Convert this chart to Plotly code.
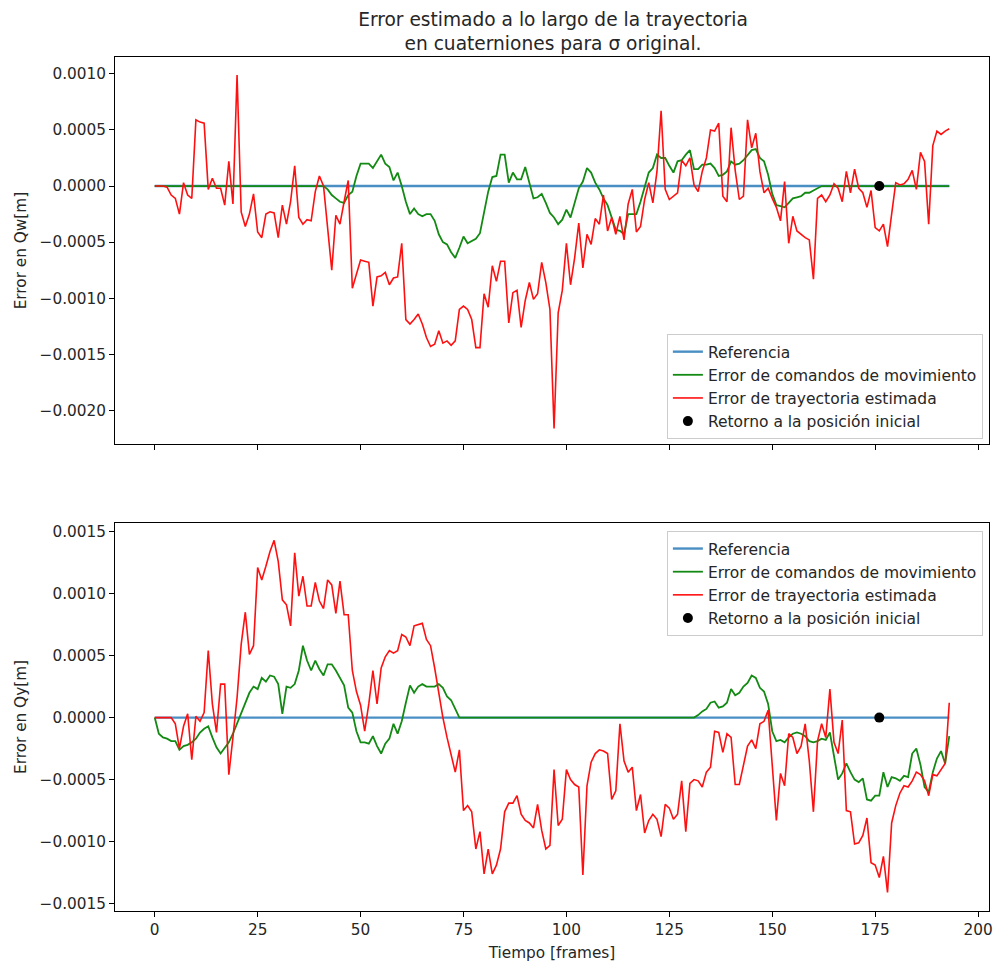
import plotly.graph_objects as go
import numpy as np

# ---------------- DATA ----------------
frames = list(range(194))
ESCALA = 1e-4

qw_estimada = [
    0, 0, 0, -0.1, -0.8, -1.1, -2.5, 0.3, -0.8, -1.1,
    5.9, 5.7, 5.6, -0.3, 0.7, -0.2, -0.2, -1.7, 2.2, -1.6,
    9.9, -2.3, -3.6, -2.5, -0.7, -4.1, -4.6, -2.5, -2.3, -2.4,
    -4.6, -1.7, -3.4, -1.4, 1.8, -2.8, -3.4, -3.0, -3.1, -0.5,
    0.9, 0.0, -3.7, -7.5, -2.6, -3.4, -1.4, 0.5, -9.1, -7.8,
    -6.6, -6.7, -6.8, -10.7, -8.1, -8.0, -7.7, -8.8, -8.2, -8.1,
    -5.1, -11.9, -12.3, -11.9, -11.4, -12.3, -13.5, -14.3, -14.1, -12.9,
    -14.0, -13.8, -14.2, -13.8, -11.0, -10.7, -11.0, -11.9, -14.4, -14.4,
    -9.6, -10.8, -7.1, -8.5, -6.7, -6.7, -12.2, -9.5, -9.3, -12.6,
    -10.2, -8.6, -10.1, -9.6, -6.8, -8.6, -11.0, -21.6, -11.3, -9.3,
    -5.1, -8.8, -6.4, -3.3, -7.3, -4.3, -5.2, -2.9, -3.4, -0.8,
    -4.0, -2.8, -4.3, -2.7, -4.8, -1.6, -0.3, -4.1, -3.6, -1.2,
    0.3, -1.5, 1.3, 6.7, -0.3, -1.2, -0.9, -0.6, 2.3, 1.8,
    2.5, 0.1, -0.5, 1.3, 2.5, 5.0, 4.9, 5.6, -0.9, -1.4,
    5.2, 1.4, -1.2, -0.9, 5.9, 3.4, 4.7, 1.3, -0.6, -0.2,
    -1.1, -1.9, -3.1, 0.4, -5.1, -2.7, -4.0, -4.3, -4.6, -4.8,
    -8.3, -1.1, -0.8, -1.4, -0.8, 0.2, -0.2, -1.4, 1.3, -0.6,
    1.5, -0.2, -0.6, -1.9, -0.4, -3.7, -4.0, -3.4, -5.4, -2.5,
    0.3, 0.1, 0.2, 0.6, 1.4, -0.3, 3.0, 2.2, -3.4, 3.6,
    4.9, 4.6, 4.9, 5.1,
]

qw_comandos = [0] * 42 + [
    -0.3, -0.8, -1.1, -1.4, -1.5, -0.8, -0.5, 0.9,
    2.0, 2.0, 2.0, 1.6, 2.2, 2.8, 2.0, 1.7, 0.5, 1.2,
    0.0, -1.4, -2.5, -2.0, -2.5, -2.7, -2.5, -2.5, -3.1, -4.3,
    -5.0, -5.2, -5.9, -6.4, -5.5, -4.5, -5.1, -4.9, -4.7, -4.2,
    -2.2, -0.5, 0.8, 0.9, 2.8, 2.8, 0.3, 1.2, 0.6, 0.6,
    1.7, 0.4, -1.1, -1.0, -0.7, -1.5, -2.4, -2.8, -3.4, -3.0,
    -2.1, -2.8, -1.4, -0.2, 0.4, 1.6, 1.2, 0.3, -0.3, -1.1,
    -1.7, -2.8, -3.9, -4.0, -4.3, -2.5, -2.5, -2.5, -1.4, -0.2,
    1.2, 1.6, 2.8, 2.5, 2.5, 1.8, 1.2, 2.2, 2.3, 2.8,
    3.2, 1.5, 1.5, 1.9, 1.9, 2.0, 1.6, 0.9, 1.0, 1.3,
    2.2, 1.9, 2.0, 2.3, 2.8, 3.2, 3.3, 2.5, 2.2, 1.0,
    -0.7, -1.7, -1.8, -1.9, -1.5, -1.1, -1.0, -0.9, -0.6, -0.6,
    -0.4, -0.2,
] + [0] * 32

qy_estimada = [
    0, 0, 0, 0, 0, -0.5, -2.5, -0.7, 0.3, -3.4,
    0.1, -0.3, 0.4, 5.4, 1.1, -1.2, 2.7, 2.7, -4.6, -1.6,
    1.6, 5.9, 8.5, 5.1, 5.8, 12.1, 11.1, 12.2, 13.4, 14.3,
    12.6, 9.5, 9.1, 7.4, 13.3, 9.8, 11.4, 9.0, 9.0, 10.9,
    9.4, 8.8, 11.1, 10.7, 8.4, 11.0, 8.3, 8.3, 3.8, 2.1,
    1.0, -1.1, 1.1, 3.8, 1.1, 4.0, 4.9, 5.4, 5.2, 5.4,
    6.7, 6.5, 5.8, 7.4, 7.5, 7.6, 6.3, 5.8, 4.0, 1.9,
    0.0, -1.6, -3.1, -4.4, -2.6, -7.5, -7.1, -7.6, -10.6, -9.2,
    -12.6, -10.6, -12.6, -11.9, -10.6, -7.6, -6.9, -6.9, -6.3, -7.8,
    -8.3, -8.5, -8.9, -7.0, -9.1, -10.6, -10.3, -4.2, -8.7, -8.2,
    -4.2, -5.0, -5.4, -5.6, -12.7, -5.5, -3.6, -2.9, -2.6, -2.7,
    -2.9, -6.6, -5.9, -0.5, -3.5, -4.4, -4.0, -7.5, -6.2, -9.3,
    -8.3, -7.8, -8.2, -9.6, -7.0, -7.3, -8.2, -7.8, -5.1, -9.2,
    -5.3, -5.0, -5.1, -5.6, -4.4, -4.0, -1.1, -1.2, -2.8, -1.3,
    -1.6, -5.4, -5.4, -3.8, -2.3, -1.8, -2.5, -0.5, -0.3, 0.6,
    -3.8, -8.3, -4.5, -5.5, -1.3, -1.6, -2.9, -2.3, -0.5, -3.5,
    -7.6, -1.9, -0.5, -1.6, 2.3, -2.0, -2.9, -0.2, -7.5, -7.6,
    -10.2, -10.1, -9.5, -8.1, -11.7, -11.9, -12.9, -11.2, -14.1, -8.5,
    -7.1, -6.1, -5.5, -5.6, -5.1, -4.4, -4.6, -5.1, -6.3, -4.6,
    -4.7, -4.2, -3.7, 1.2,
]

qy_comandos = [
    0, -1.3, -1.6, -1.7, -1.9, -1.9, -2.6, -2.3, -2.2, -2.0,
    -1.7, -1.2, -0.9, -0.7, -1.6, -2.4, -2.9, -2.4, -2.0, -1.3,
    -0.5, 0.3, 1.1, 2.0, 2.5, 2.3, 3.2, 2.9, 3.4, 3.3,
    2.7, 0.3, 2.5, 2.4, 2.7, 3.8, 5.8, 4.6, 3.8, 4.6,
    3.9, 3.4, 4.3, 4.3, 3.8, 3.2, 2.6, 0.8, 0.4, -1.1,
    -2.0, -2.0, -2.1, -1.5, -2.3, -2.9, -2.1, -1.7, -0.5, -1.3,
    -0.3, 1.2, 2.6, 2.0, 2.5, 2.7, 2.5, 2.5, 2.5, 2.7,
    2.4, 1.7, 1.4, 0.7,
] + [0] * 58 + [
    0.2, 0.5, 0.7, 1.2, 1.3, 0.8, 0.9, 1.2,
    2.3, 1.8, 2.0, 2.5, 2.8, 3.4, 3.2, 2.4, 2.1, 1.1,
    -1.1, -1.9, -1.8, -2.0, -1.6, -1.3, -1.2, -1.3, -1.5, -1.9,
    -2.0, -1.9, -1.7, -1.8, -1.2, -3.2, -5.0, -4.5, -3.7, -4.4,
    -5.0, -5.2, -4.9, -6.6, -6.7, -6.3, -6.3, -4.4, -5.6, -4.8,
    -4.9, -5.1, -4.7, -4.8, -2.9, -2.5, -3.8, -5.6, -6.0, -4.4,
    -3.3, -2.7, -3.7, -1.5,
]

referencia = [0] * 194
retorno_frame = [176]
retorno_valor = [0.0]

titulo = "Error estimado a lo largo de la trayectoria<br>en cuaterniones para σ original."
nombres = ["Referencia", "Error de comandos de movimiento",
           "Error de trayectoria estimada", "Retorno a la posición inicial"]
x_ticks = [0, 25, 50, 75, 100, 125, 150, 175, 200]
qw_ticks = [-0.002, -0.0015, -0.001, -0.0005, 0.0, 0.0005, 0.001]
qy_ticks = [-0.0015, -0.001, -0.0005, 0.0, 0.0005, 0.001, 0.0015]

# ---------------- FIGURE ----------------
FONT = "DejaVu Sans"
TXT = "#262626"
FS = 15.3
C_REF = "#4a8fc4"
C_CMD = "#138a13"
C_EST = "#ff1010"

fig = go.Figure()

panels = [
    ("x", "y", "legend", np.array(qw_comandos) * ESCALA, np.array(qw_estimada) * ESCALA),
    ("x2", "y2", "legend2", np.array(qy_comandos) * ESCALA, np.array(qy_estimada) * ESCALA),
]
for xa, ya, lg, cmd, est in panels:
    fig.add_trace(go.Scatter(x=frames, y=referencia, mode="lines", name=nombres[0],
                             line=dict(color=C_REF, width=2.4), xaxis=xa, yaxis=ya, legend=lg))
    fig.add_trace(go.Scatter(x=frames, y=cmd, mode="lines", name=nombres[1],
                             line=dict(color=C_CMD, width=1.8), xaxis=xa, yaxis=ya, legend=lg))
    fig.add_trace(go.Scatter(x=frames, y=est, mode="lines", name=nombres[2],
                             line=dict(color=C_EST, width=1.6), xaxis=xa, yaxis=ya, legend=lg))
    fig.add_trace(go.Scatter(x=retorno_frame, y=retorno_valor, mode="markers", name=nombres[3],
                             marker=dict(color="black", size=10), xaxis=xa, yaxis=ya, legend=lg))

axis_common = dict(showline=True, linecolor="black", linewidth=1, mirror=True,
                   ticks="outside", ticklen=5, tickcolor="black", showgrid=False,
                   zeroline=False, tickfont=dict(family=FONT, size=FS, color=TXT))

xr = [-9.65, 202.65]
legend_common = dict(bgcolor="rgba(255,255,255,0.85)", bordercolor="#cccccc", borderwidth=1,
                     font=dict(family=FONT, size=15.5, color=TXT), tracegroupgap=0)
fig.update_layout(
    width=1000, height=965,
    margin=dict(l=115, r=7, t=57, b=52),
    paper_bgcolor="white", plot_bgcolor="white",
    font=dict(family=FONT, size=FS, color=TXT),
    title=dict(text=titulo, x=0.553, xanchor="center", y=0.9735, yanchor="middle",
               yref="container", font=dict(family=FONT, size=18.6, color=TXT)),
    xaxis=dict(domain=[0, 1], anchor="y", range=xr, tickvals=x_ticks,
               showticklabels=False, **axis_common),
    yaxis=dict(domain=[0.5467, 1], anchor="x", range=[-0.0023, 0.00115],
               tickvals=qw_ticks, tickformat=".4f",
               title=dict(text="Error en Qw[m]", standoff=9,
                          font=dict(family=FONT, size=FS, color=TXT)),
               **axis_common),
    xaxis2=dict(domain=[0, 1], anchor="y2", range=xr, tickvals=x_ticks,
                title=dict(text="Tiempo [frames]", standoff=8,
                           font=dict(family=FONT, size=FS, color=TXT)),
                **axis_common),
    yaxis2=dict(domain=[0, 0.4544], anchor="x2", range=[-0.00156, 0.00157],
                tickvals=qy_ticks, tickformat=".4f",
                title=dict(text="Error en Qy[m]", standoff=9,
                           font=dict(family=FONT, size=FS, color=TXT)),
                **axis_common),
    legend=dict(x=0.993, y=0.5526, xanchor="right", yanchor="bottom", **legend_common),
    legend2=dict(x=0.993, y=0.445, xanchor="right", yanchor="top", **legend_common),
    showlegend=True,
)

fig.write_html("out.html")
